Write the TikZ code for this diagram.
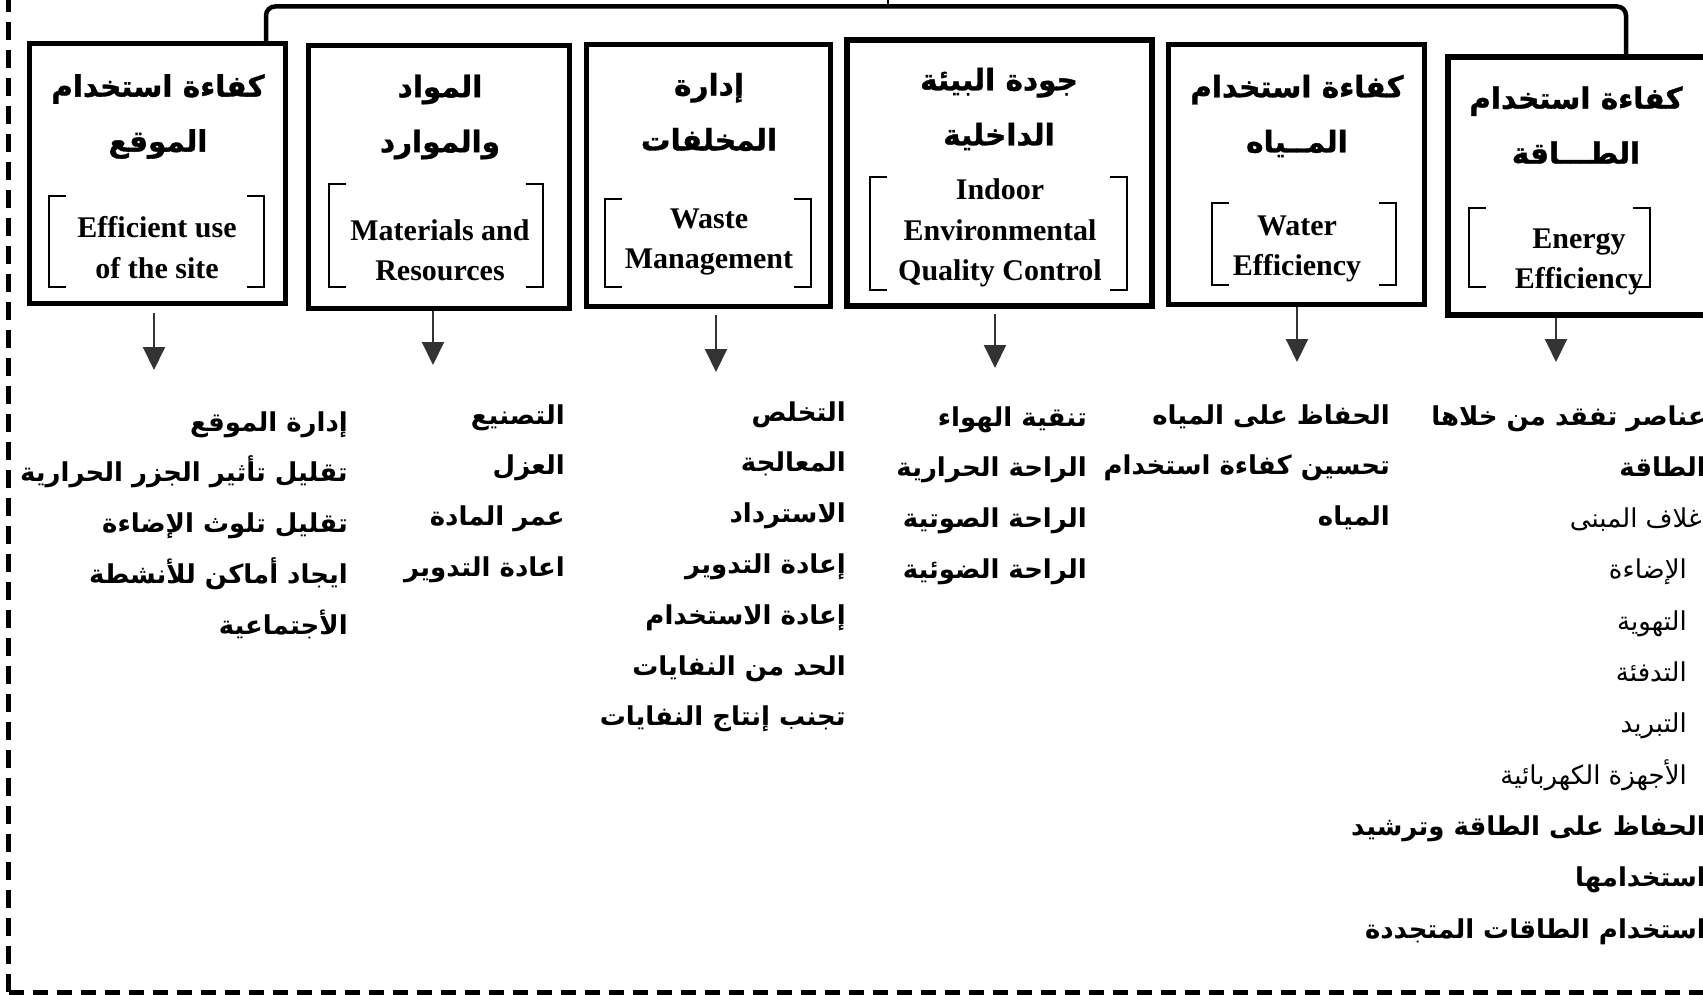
\documentclass[tikz,border=0pt]{standalone}
\usepackage{fontspec}
\setmainfont{Liberation Serif}
\newfontfamily\arabicfont[Script=Arabic]{DejaVu Sans}
\newfontfamily\arabicheavy[Script=Arabic, BoldFeatures={FakeBold=1.2}]{DejaVu Sans}
\TeXXeTstate=1
\usetikzlibrary{arrows.meta}

\tikzset{
  catbox/.style={draw, line width=5pt, inner sep=0pt},
  ttl/.style={font=\arabicheavy\bfseries\fontsize{29.5}{55}\selectfont, align=center, inner sep=0pt},
  eng/.style={font=\bfseries\fontsize{30}{40.5}\selectfont, align=center, inner sep=0pt},
  brk/.style={line width=2.5pt},
  arr/.style={draw=black!80, line width=2pt, -{Triangle[length=23pt,width=22pt]}},
  lst/.style={font=\arabicfont\bfseries\fontsize{26}{50.8}\selectfont, anchor=base east, inner sep=0pt},
  bus/.style={line width=4.5pt, rounded corners=9pt},
  frame/.style={line width=5pt},
}

% a pair of square brackets: left x, right x, top y, bottom y
\newcommand\pairbrackets[4]{%
  \draw[brk] (#1+17,#3) -- (#1,#3) -- (#1,#4) -- (#1+17,#4);
  \draw[brk] (#2-17,#3) -- (#2,#3) -- (#2,#4) -- (#2-17,#4);
}

\begin{document}
\begin{tikzpicture}[x=1pt, y=-1pt]
\useasboundingbox (0,0) rectangle (1703,995);
\clip (0,0) rectangle (1703,995);

% dashed outer frame (left and bottom sides)
\coordinate (fc) at (8.5,992);
\coordinate (ft) at (8.5,0);
\coordinate (fr) at (1710,992);
\draw[frame, dash pattern=on 18pt off 10pt] (fc) -- (ft);
\draw[frame, dash pattern=on 15pt off 9pt] (fc) -- (fr);

% category boxes
\node[catbox, minimum width=256pt, minimum height=260pt] (b1) at (157.5,173.5) {};
\node[catbox, minimum width=261pt, minimum height=263pt] (b2) at (439,177) {};
\node[catbox, minimum width=244pt, minimum height=262pt] (b3) at (708.5,175.5) {};
\node[catbox, line width=6pt, minimum width=305pt, minimum height=266pt] (b4) at (999.5,173) {};
\node[catbox, minimum width=256pt, minimum height=260pt] (b5) at (1296.5,174.5) {};
\node[catbox, line width=6pt, minimum width=264pt, minimum height=258pt] (b6) at (1580,186) {};

% bus joining the categories
\coordinate (busL) at (266,6.5);
\coordinate (busR) at (1626,6.5);
\draw[bus] (b1.north -| busL) -- (busL) -- (busR) -- (b6.north -| busR);
\coordinate (rootA) at (888,-2);
\coordinate (rootB) at (888,7);
\draw[line width=1.5pt] (rootA) -- (rootB);

% Arabic titles
\node[ttl] (t1) at (158,116.5) {\beginR كفاءة استخدام\endR\\\beginR الموقع\endR};
\node[ttl] (t2) at (440,117) {\beginR المواد\endR\\\beginR والموارد\endR};
\node[ttl] (t3) at (709,112) {\beginR إدارة\endR\\\beginR المخلفات\endR};
\node[ttl] (t4) at (999,109) {\beginR جودة البيئة\endR\\\beginR الداخلية\endR};
\node[ttl] (t5) at (1297,116) {\beginR كفاءة استخدام\endR\\\beginR المــياه\endR};
\node[ttl] (t6) at (1576,125) {\beginR كفاءة استخدام\endR\\\beginR الطـــاقة\endR};

% English names in brackets
\node[eng] (e1) at (157,247.5) {Efficient use\\of the site};
\node[eng] (e2) at (440,250.5) {Materials and\\Resources};
\node[eng] (e3) at (709,242) {Waste\\Management};
\node[eng] (e4) at (1000,233) {Indoor\\Environmental\\Quality Control};
\node[eng] (e5) at (1297,249) {Water\\Efficiency};
\node[eng] (e6) at (1579,262) {Energy\\Efficiency};

\pairbrackets{49}{264}{196}{287}
\pairbrackets{329}{543}{184}{287}
\pairbrackets{605}{811}{199}{287}
\pairbrackets{870}{1127}{177}{290}
\pairbrackets{1212}{1396}{203}{285}
\pairbrackets{1469}{1650}{208}{287}

% arrow tips
\coordinate (a1) at (154,370);
\coordinate (a2) at (433,365);
\coordinate (a3) at (716,372);
\coordinate (a4) at (995,368);
\coordinate (a5) at (1297,362);
\coordinate (a6) at (1556,362);
\draw[arr] (b1.south -| a1) ++(0,7) -- (a1);
\draw[arr] (b2.south -| a2) -- (a2);
\draw[arr] (b3.south -| a3) ++(0,6) -- (a3);
\draw[arr] (b4.south -| a4) ++(0,5) -- (a4);
\draw[arr] (b5.south -| a5) -- (a5);
\draw[arr] (b6.south -| a6) -- (a6);

% item lists
\node[lst] (l1) at (348,431) {\begin{tabular}[t]{@{}r@{}}
\beginR إدارة الموقع\endR\\
\beginR تقليل تأثير الجزر الحرارية\endR\\
\beginR تقليل تلوث الإضاءة\endR\\
\beginR ايجاد أماكن للأنشطة\endR\\
\beginR الأجتماعية\endR
\end{tabular}};

\node[lst] (l2) at (565,424) {\begin{tabular}[t]{@{}r@{}}
\beginR التصنيع\endR\\
\beginR العزل\endR\\
\beginR عمر المادة\endR\\
\beginR اعادة التدوير\endR
\end{tabular}};

\node[lst] (l3) at (846,421) {\begin{tabular}[t]{@{}r@{}}
\beginR التخلص\endR\\
\beginR المعالجة\endR\\
\beginR الاسترداد\endR\\
\beginR إعادة التدوير\endR\\
\beginR إعادة الاستخدام\endR\\
\beginR الحد من النفايات\endR\\
\beginR تجنب إنتاج النفايات\endR
\end{tabular}};

\node[lst] (l4) at (1087,426) {\begin{tabular}[t]{@{}r@{}}
\beginR تنقية الهواء\endR\\
\beginR الراحة الحرارية\endR\\
\beginR الراحة الصوتية\endR\\
\beginR الراحة الضوئية\endR
\end{tabular}};

\node[lst] (l5) at (1390,424) {\begin{tabular}[t]{@{}r@{}}
\beginR الحفاظ على المياه\endR\\
\beginR تحسين كفاءة استخدام\endR\\
\beginR المياه\endR
\end{tabular}};

\node[lst, font=\arabicfont\bfseries\fontsize{26}{51.3}\selectfont] (l6) at (1706,425) {\begin{tabular}[t]{@{}r@{}}
\beginR عناصر تفقد من خلاها\endR\\
\beginR الطاقة\endR\\
{\mdseries\beginR غلاف المبنى\endR\kern4pt}\\
{\mdseries\beginR الإضاءة\endR\kern19pt}\\
{\mdseries\beginR التهوية\endR\kern19pt}\\
{\mdseries\beginR التدفئة\endR\kern19pt}\\
{\mdseries\beginR التبريد\endR\kern19pt}\\
{\mdseries\beginR الأجهزة الكهربائية\endR\kern19pt}\\
\beginR الحفاظ على الطاقة وترشيد\endR\\
\beginR استخدامها\endR\\
\beginR استخدام الطاقات المتجددة\endR
\end{tabular}};
\end{tikzpicture}
\end{document}
